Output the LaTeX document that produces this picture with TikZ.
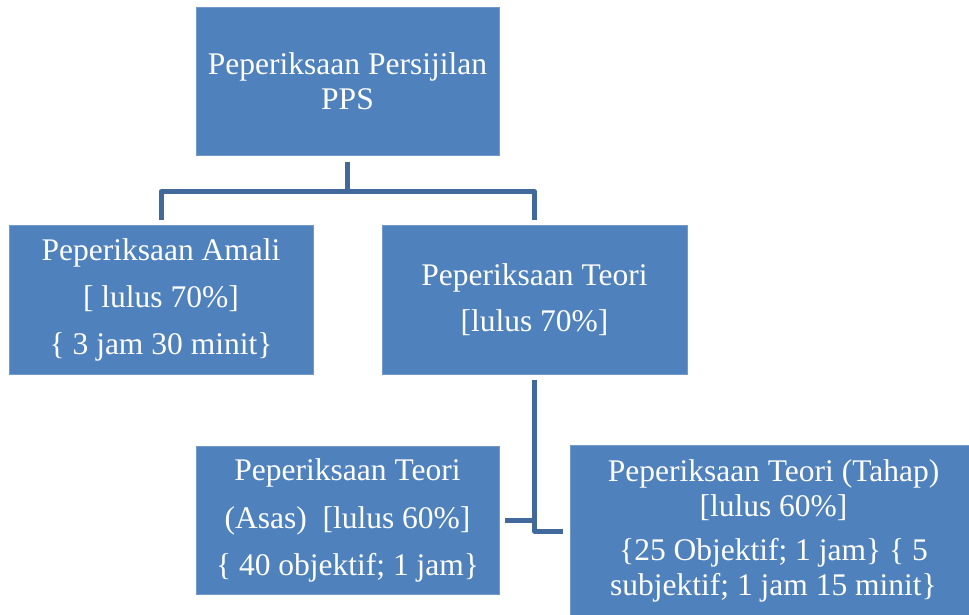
\documentclass[tikz,border=0pt]{standalone}
\usepackage{fontspec}
\setmainfont{Liberation Serif}
\definecolor{boxblue}{HTML}{4F81BD}
\definecolor{linkblue}{HTML}{41699C}
\begin{document}
\begin{tikzpicture}[x=1pt,y=-1pt,
  box/.style={rectangle, fill=boxblue, draw=boxblue!80!white, line width=0.6pt,
    inner sep=0pt, align=center, text=white,
    font=\fontsize{31.5}{35}\selectfont},
  conn/.style={draw=linkblue, line width=5pt, line cap=butt, line join=round}]
\useasboundingbox (0,0) rectangle (969,614);
\begin{scope}
\clip (0,0) rectangle (969,614);
\node[box, minimum width=303pt, minimum height=148pt] (top) at (347.5,81.5)
  {Peperiksaan Persijilan\\PPS};
\node[box, minimum width=304pt, minimum height=149pt] (amali) at (161,299.5)
  {Peperiksaan Amali\\[12pt]{}[ lulus 70\%]\\[12pt]\{ 3 jam 30 minit\}};
\node[box, minimum width=305pt, minimum height=149pt] (teori) at (534.5,299.5)
  {Peperiksaan Teori\\[11pt]{}[lulus 70\%]};
\node[box, minimum width=303pt, minimum height=148pt] (asas) at (347.5,520)
  {Peperiksaan Teori\\[13pt](Asas)\ \ {}[lulus 60\%]\\[12pt]\{ 40 objektif; 1 jam\}};
\node[box, minimum width=407pt, minimum height=172pt] (tahap) at (773.5,531)
  {Peperiksaan Teori (Tahap)\\{}[lulus 60\%]\\[9pt]\{25 Objektif; 1 jam\} \{ 5\\subjektif; 1 jam 15 minit\}};
\end{scope}
\draw[conn, shorten <=6pt, shorten >=5pt] (top.south) -- ++(0,36) -| (amali.north);
\draw[conn, shorten <=6pt, shorten >=5pt] (top.south) -- ++(0,36) -| (teori.north);
\draw[conn, shorten <=6pt, shorten >=7pt] (teori.south) |- (tahap.west);
\draw[conn, shorten <=6pt] (asas.east) -- (asas.east -| teori.south);
\end{tikzpicture}
\end{document}
